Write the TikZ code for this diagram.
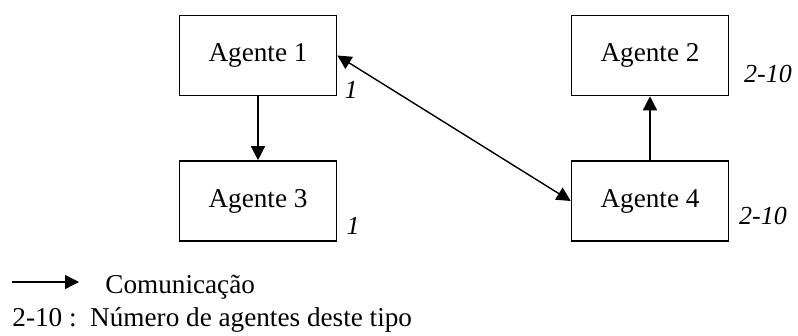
\documentclass[tikz,border=0pt]{standalone}
\usepackage{fontspec}
\setmainfont{Liberation Serif}
\usetikzlibrary{arrows.meta,positioning}

\begin{document}
\begin{tikzpicture}[x=0.5pt,y=-0.5pt,
    agente/.style={draw, line width=0.8pt, minimum width=78.5pt, minimum height=40pt, font=\fontsize{13.6}{16}\selectfont},
    qtd/.style={font=\fontsize{13}{15}\selectfont\itshape},
    com/.style={line width=0.7pt, -{Triangle[length=7pt,width=7pt]}}]
        \useasboundingbox (0,0) rectangle (798,336);

        % Agentes
        \node[agente] (a1) at (258,55.5) {Agente 1};
        \node[agente] (a3) at (258,201) {Agente 3};
        \node[agente] (a2) at (650,55.5) {Agente 2};
        \node[agente] (a4) at (650,201) {Agente 4};

        % numero de agentes
        \node[qtd] (n1) at (351,90) {1};
        \node[qtd] (n3) at (353,226) {1};
        \node[qtd] (n2) at (768,74) {2-10};
        \node[qtd] (n4) at (763,216) {2-10};

        % comunicacao
        \draw[com] (a1) -- (a3);
        \draw[com] (a4) -- (a2);
        \draw[com, {Triangle[length=7pt,width=7pt]}-{Triangle[length=7pt,width=7pt]}] (a1.east) -- (a4.west);

        % legenda
        \coordinate (l0) at (12,282);
        \coordinate (l1) at (79,282);
        \draw[com] (l0) -- (l1);
        \node[anchor=west, inner sep=0pt, font=\fontsize{13.6}{16}\selectfont] (leg1) at (105,287) {Comunica\c{c}\~ao};
        \node[anchor=west, inner sep=0pt, font=\fontsize{13.6}{16}\selectfont] (leg2) at (12,320) {2-10 :\ \ N\'umero de agentes deste tipo};
    \end{tikzpicture}
\end{document}
